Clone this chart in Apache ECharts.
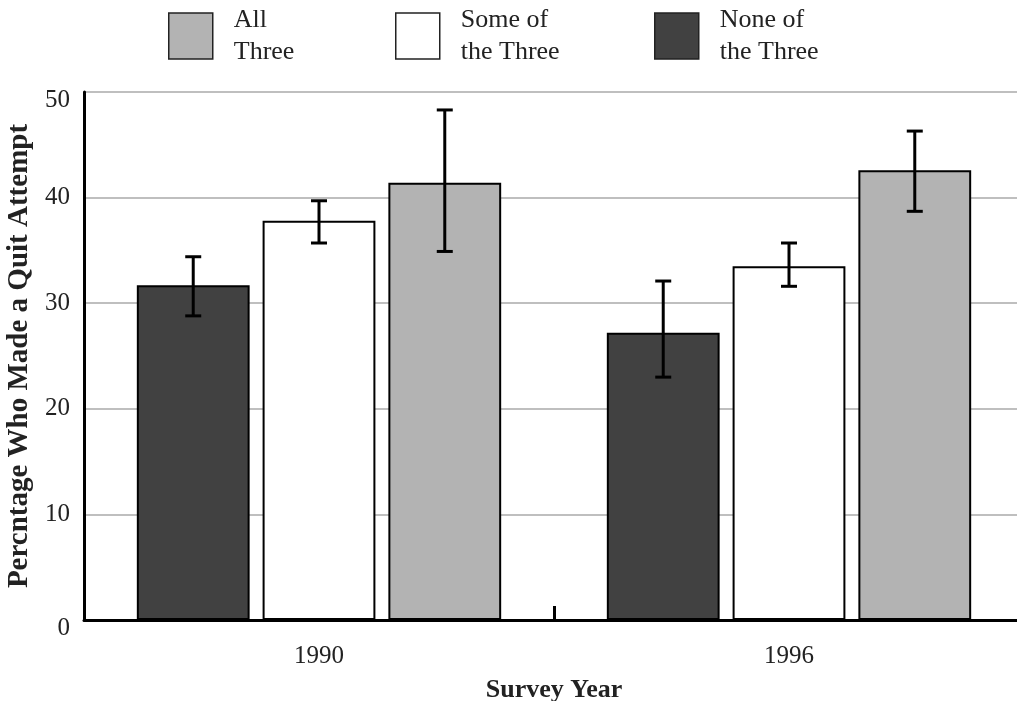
<!DOCTYPE html>
<html><head><meta charset="utf-8">
<script src="https://cdn.jsdelivr.net/npm/echarts@6/dist/echarts.min.js"></script>
<style>html,body{margin:0;padding:0;background:#fff}#c{width:1017px;height:701px}</style>
</head><body><div id="c"></div>
<script>
const years = ['1990', '1996'];
const seriesNames = ['None of the Three', 'Some of the Three', 'All Three'];
const noneVals = [31.7, 27.2];
const someVals = [37.8, 33.5];
const allVals = [41.4, 42.6];
const noneErr = [[28.8, 34.4], [23.0, 32.1]];
const someErr = [[35.7, 39.7], [31.6, 35.7]];
const allErr = [[34.9, 48.3], [38.7, 46.3]];
const legendLabels = {'All Three': 'All\nThree', 'Some of the Three': 'Some of\nthe Three', 'None of the Three': 'None of\nthe Three'};
const colors = ['#414141', '#ffffff', '#b3b3b3'];
const yTicks = [0, 10, 20, 30, 40, 50];

const FONT = 'Liberation Serif';
const BAR_W = 0.24, BAR_GAP = 0.115;
const vals = [noneVals, someVals, allVals];
const errs = [noneErr, someErr, allErr];

const series = [];
seriesNames.forEach((n, i) => {
  series.push({
    name: n, type: 'bar', data: vals[i],
    barWidth: (BAR_W * 100) + '%', barGap: (BAR_GAP * 100) + '%',
    itemStyle: {color: colors[i], borderColor: '#000', borderWidth: 2},
    z: 2
  });
});
errs.forEach((e, i) => {
  series.push({
    type: 'custom', z: 5, silent: true,
    data: e.map((d, k) => [k, d[0], d[1]]),
    renderItem: function (params, api) {
      const band = api.size([1, 0])[0];
      const off = (i - 1) * band * BAR_W * (1 + BAR_GAP);
      const lo = api.coord([api.value(0), api.value(1)]);
      const hi = api.coord([api.value(0), api.value(2)]);
      const x = lo[0] + off, cap = 8;
      const st = {stroke: '#000', lineWidth: 3};
      return {type: 'group', children: [
        {type: 'line', shape: {x1: x, y1: lo[1], x2: x, y2: hi[1]}, style: st},
        {type: 'line', shape: {x1: x - cap, y1: lo[1], x2: x + cap, y2: lo[1]}, style: st},
        {type: 'line', shape: {x1: x - cap, y1: hi[1], x2: x + cap, y2: hi[1]}, style: st}
      ]};
    }
  });
});

const legendPos = [['All Three', 168], ['Some of the Three', 395], ['None of the Three', 654]];
const legends = legendPos.map(([n, x]) => ({
  data: [n], left: x, top: 4, icon: 'rect', itemWidth: 44, itemHeight: 46,
  selectedMode: false, padding: 0,
  itemStyle: {borderColor: '#222', borderWidth: 1.5},
  formatter: nm => legendLabels[nm],
  textStyle: {fontFamily: FONT, fontSize: 26, color: '#222', lineHeight: 32, padding: [0, 0, 0, 16]}
}));

const chart = echarts.init(document.getElementById('c'));
chart.setOption({
  animation: false,
  backgroundColor: '#fff',
  legend: legends,
  grid: {left: 84, top: 92, width: 940, height: 528, containLabel: false, outerBoundsMode: 'none'},
  xAxis: {
    type: 'category', data: years,
    axisLine: {lineStyle: {color: '#000', width: 3}},
    axisTick: {show: true, interval: 0, inside: true, length: 14, lineStyle: {color: '#000', width: 3}},
    axisLabel: {fontFamily: FONT, fontSize: 25, color: '#222', margin: 24},
    name: 'Survey Year', nameLocation: 'middle', nameGap: 57,
    nameTextStyle: {fontFamily: FONT, fontSize: 26, fontWeight: 'bold', color: '#222'}
  },
  yAxis: {
    type: 'value', min: yTicks[0], max: yTicks[yTicks.length - 1], interval: 10,
    axisLine: {show: true, lineStyle: {color: '#000', width: 3}},
    axisTick: {show: false},
    splitLine: {lineStyle: {color: '#aaa', width: 1.5}},
    axisLabel: {
      fontFamily: FONT, fontSize: 25, color: '#222', margin: 14,
      formatter: v => (v === 0 || v === 50) ? '{s|' + v + '}' : String(v),
      rich: {s: {fontFamily: FONT, fontSize: 25, color: '#222', padding: [16, 0, 0, 0]}}
    },
    name: 'Percntage Who Made a Quit Attempt', nameLocation: 'middle', nameGap: 49,
    nameTextStyle: {fontFamily: FONT, fontSize: 29, fontWeight: 'bold', color: '#222'}
  },
  series: series
});
</script></body></html>
